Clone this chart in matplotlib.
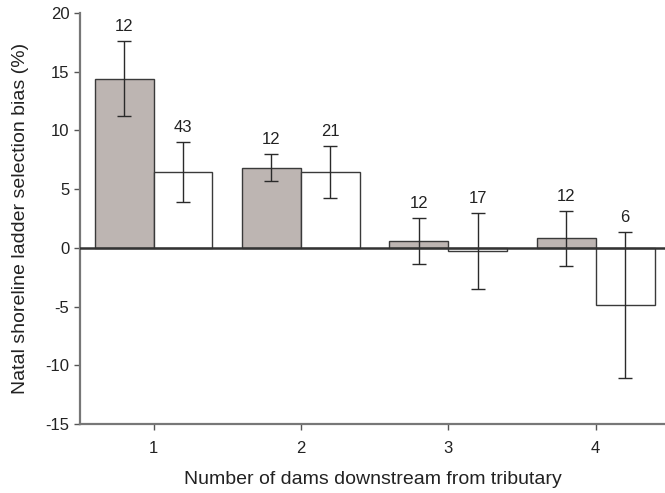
import numpy as np
import matplotlib.pyplot as plt

plt.rcParams['font.family'] = ['Liberation Sans', 'DejaVu Sans']
plt.rcParams['axes.unicode_minus'] = False

dams = [1, 2, 3, 4]
# gray bars and white bars (bias %, half-width of error bar, sample size)
gray_vals = [14.4, 6.8, 0.55, 0.82]
gray_err = [3.2, 1.15, 1.95, 2.33]
gray_n = [12, 12, 12, 12]
white_vals = [6.45, 6.43, -0.27, -4.85]
white_err = [2.58, 2.2, 3.23, 6.23]
white_n = [43, 21, 17, 6]

fig = plt.figure(figsize=(6.65, 4.93), dpi=100)
ax = fig.add_axes([0.120, 0.140, 0.880, 0.834])

x = np.array(dams, dtype=float)
w = 0.4
edge = '#3a3a3a'
ax.bar(x - w / 2, gray_vals, width=w, color='#bdb5b2', edgecolor=edge, linewidth=1.0)
ax.bar(x + w / 2, white_vals, width=w, color='white', edgecolor=edge, linewidth=1.0)
ax.errorbar(x - w / 2, gray_vals, yerr=gray_err, fmt='none', ecolor='#2a2a2a',
            elinewidth=1.0, capsize=5, capthick=1.0)
ax.errorbar(x + w / 2, white_vals, yerr=white_err, fmt='none', ecolor='#2a2a2a',
            elinewidth=1.0, capsize=5, capthick=1.0)

for xi, v, e, n in zip(x - w / 2, gray_vals, gray_err, gray_n):
    ax.text(xi, v + e + 0.6, str(n), ha='center', va='bottom', fontsize=12, color='#222222')
for xi, v, e, n in zip(x + w / 2, white_vals, white_err, white_n):
    ax.text(xi, v + e + 0.6, str(n), ha='center', va='bottom', fontsize=12, color='#222222')

ax.axhline(0, color='#333333', linewidth=1.8, zorder=3)

ax.set_xlim(0.5, 4.47)
ax.set_ylim(-15, 20)
ax.set_xticks(dams)
ax.set_yticks(range(-15, 21, 5))
for s in ['top', 'right']:
    ax.spines[s].set_visible(False)
for s in ['left', 'bottom']:
    ax.spines[s].set_color('#777777')
    ax.spines[s].set_linewidth(1.6)
ax.tick_params(axis='both', colors='#555555', labelcolor='#222222', labelsize=12,
               length=4, width=1.0, direction='out')
ax.tick_params(axis='x', pad=8)

ax.set_xlabel('Number of dams downstream from tributary', fontsize=14, labelpad=11, color='#222222')
ax.set_ylabel('Natal shoreline ladder selection bias (%)', fontsize=14, labelpad=12, color='#222222')

fig.savefig('out.png', dpi=100)
